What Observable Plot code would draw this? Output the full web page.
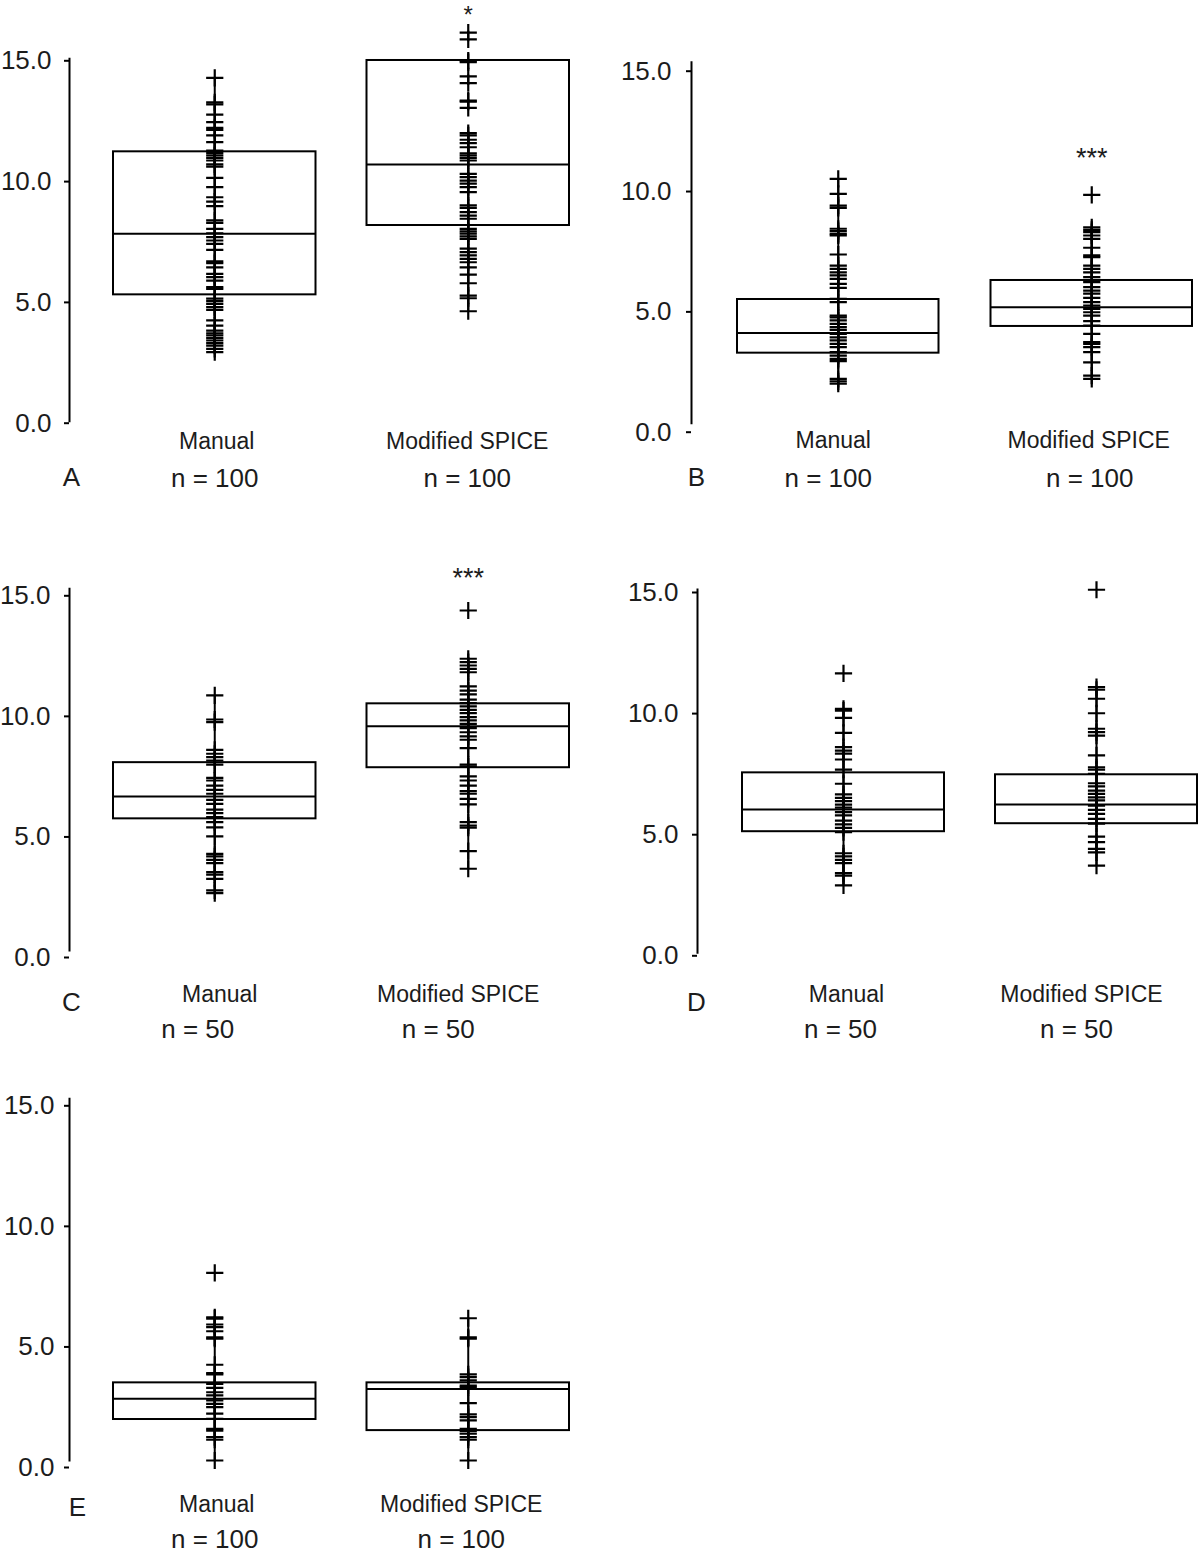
<!DOCTYPE html>
<html><head><meta charset="utf-8">
<script src="https://cdn.jsdelivr.net/npm/d3@7"></script>
<script src="https://cdn.jsdelivr.net/npm/@observablehq/plot@0.6"></script>
<style>
body{margin:0;background:#fff;}
#fig{position:relative;width:1200px;height:1553px;background:#fff;overflow:hidden;}
.panel{position:absolute;}
</style></head><body><div id="fig"></div>
<script>
// ---------- data ----------
const categories = ["Manual", "Modified SPICE"];
const letters = ["A", "B", "C", "D", "E"];
const sampleSizes = [100, 100, 50, 50, 100];
const yTicks = [0, 5, 10, 15];

const aManual = [14.21,13.20,13.11,12.69,12.38,12.14,12.06,11.83,11.55,11.20,11.11,11.00,10.90,10.79,10.63,10.54,10.07,9.69,9.27,9.09,8.90,8.31,8.21,7.96,7.78,7.62,7.48,7.34,7.09,6.62,6.54,6.37,6.10,5.96,5.82,5.55,5.48,5.07,4.97,4.86,4.72,4.61,4.17,3.96,3.75,3.64,3.55,3.44,3.34,3.23,3.13,2.99,2.86];
const aSpice = [16.08,15.80,14.93,14.86,14.27,13.99,13.27,13.23,12.97,11.92,11.83,11.65,11.51,11.34,11.09,11.00,10.90,10.79,10.24,10.10,9.96,9.83,9.69,9.48,8.93,8.83,8.65,8.51,8.38,7.96,7.86,7.76,7.65,7.55,7.14,7.00,6.86,6.72,6.58,6.37,6.07,5.71,5.20,5.09,4.55];
const bManual = [10.15,9.53,9.04,8.95,8.08,7.98,7.87,7.80,7.01,6.55,6.41,6.27,6.14,6.00,5.79,5.62,5.17,5.03,4.47,4.40,4.27,4.13,3.99,3.88,3.71,3.57,3.44,3.30,3.16,2.95,2.81,2.67,2.58,1.84,1.74,1.64];
const bSpice = [9.49,8.14,8.03,7.94,7.80,7.66,7.29,6.97,6.90,6.55,6.41,6.27,6.07,5.86,5.65,5.51,5.38,5.21,5.03,4.89,4.75,4.61,4.47,4.24,4.06,3.71,3.37,3.30,3.16,2.95,2.53,1.98,1.84];
const cManual = [10.58,9.58,9.47,8.32,8.16,8.02,7.88,7.71,7.16,7.05,6.84,6.66,6.50,6.25,6.08,5.84,5.70,5.53,5.32,5.11,4.73,4.01,3.90,3.76,3.62,3.25,3.15,2.97,2.49,2.38];
const cSpice = [14.10,12.10,11.96,11.82,11.68,11.54,10.95,10.78,10.62,10.40,10.26,10.12,9.98,9.84,9.68,9.54,9.40,9.22,9.05,8.88,8.74,8.39,7.71,7.63,7.22,7.05,6.84,6.61,6.50,6.29,6.06,5.32,5.18,5.09,4.12,3.39];
const dManual = [11.54,10.07,10.00,9.70,9.08,8.49,8.35,8.22,7.98,7.56,6.98,6.54,6.40,6.26,6.12,5.99,5.81,5.67,5.46,5.30,5.16,4.98,4.11,3.98,3.84,3.70,3.29,3.19,2.78];
const dSpice = [14.99,10.97,10.86,10.49,9.89,9.25,9.11,8.97,8.15,7.66,7.56,7.39,7.00,6.87,6.70,6.56,6.42,6.29,6.08,5.90,5.74,5.53,5.33,4.80,4.57,4.29,4.15,3.60];
const eManual = [7.78,5.94,5.88,5.64,5.53,5.36,5.11,5.05,3.97,3.62,3.57,3.18,3.01,2.83,2.70,2.49,2.35,2.21,1.94,1.73,1.31,1.24,0.97,0.86,0.00];
const eSpice = [5.90,5.11,5.05,3.57,3.46,3.32,3.11,3.04,2.38,1.91,1.80,1.66,1.31,1.22,1.11,0.97,0.86,0.00];

// box: lower quartile, median, upper quartile (panels A..E)
const q1Manual = [5.23, 2.91, 5.46, 5.00, 1.70];
const medManual = [7.76, 3.75, 6.39, 5.92, 2.56];
const q3Manual = [11.15, 5.14, 7.79, 7.43, 3.22];
const q1Spice = [8.10, 4.02, 7.58, 5.33, 1.24];
const medSpice = [10.63, 4.82, 9.30, 6.12, 2.97];
const q3Spice = [14.93, 5.93, 10.23, 7.35, 3.22];

// continuous vertical range line of each column (non-outlying values)
const lineLoManual = [2.86, 1.64, 2.38, 2.78, 0.00];
const lineHiManual = [14.21, 10.15, 10.58, 10.07, 5.94];
const lineLoSpice = [4.55, 1.84, 3.39, 3.60, 0.00];
const lineHiSpice = [11.92, 8.14, 12.10, 10.97, 5.90];

// significance marks over "Modified SPICE"
const sigLabels = ["*", "***", "***", "", ""];
const sigY = [17.1, 11.25, 15.7, null, null];

const panelData = [[aManual, aSpice], [bManual, bSpice], [cManual, cSpice], [dManual, dSpice], [eManual, eSpice]];

// ---------- layout (pixels) ----------
const layout = [
  {left: 0,   top: 0,    width: 600, height: 510, ml: 69, mt: 58.3, mb: 89.3, xr: [113, 569], bw: 202.5, tp: 13, yDy: 2, catPad: 11.5, nPad: 47, catDx: [2, -1], nDx: [0, -1], lDx: 2, lDy: 56.3, sigDy: 7.5, sigFs: 24},
  {left: 600, top: 0,    width: 600, height: 510, ml: 91, mt: 61.7, mb: 87.3, xr: [137, 592], bw: 201.5, tp: 15, yDy: 9, catPad: 8, nPad: 45, catDx: [-5, -3], nDx: [-10, -2], lDx: 5, lDy: 54.3, sigDy: 6, sigFs: 27},
  {left: 0,   top: 530,  width: 600, height: 520, ml: 69, mt: 58.3, mb: 100, xr: [113, 569], bw: 202.5, tp: 14, yDy: 7, catPad: 34.7, nPad: 68.7, catDx: [5, -10], nDx: [-17, -30], lDx: 2, lDy: 52, sigDy: 6, sigFs: 27},
  {left: 600, top: 530,  width: 600, height: 520, ml: 97, mt: 59, mb: 97.7, xr: [142, 597], bw: 202, tp: 14, yDy: 3, catPad: 32.4, nPad: 66.4, catDx: [3, -15], nDx: [-3, -20], lDx: -1, lDy: 49.7, sigDy: 6, sigFs: 27},
  {left: 0,   top: 1040, width: 600, height: 513, ml: 69, mt: 58.3, mb: 93, xr: [113, 569], bw: 202.5, tp: 10, yDy: 7, catPad: 34.7, nPad: 69, catDx: [2, -7], nDx: [0, -7], lDx: 8, lDy: 47, sigDy: 6, sigFs: 27}
];

const FONT = "'Liberation Sans', Arial, Helvetica, sans-serif";
const INK = "#000";
const TXT = "#1c1c1c";

function makePanel(i) {
  const L = layout[i];
  const [manual, spice] = panelData[i];
  const rows = [
    ...manual.map(v => ({cat: categories[0], v})),
    ...spice.map(v => ({cat: categories[1], v}))
  ];
  const boxes = [
    {cat: categories[0], q1: q1Manual[i], med: medManual[i], q3: q3Manual[i], lo: lineLoManual[i], hi: lineHiManual[i]},
    {cat: categories[1], q1: q1Spice[i], med: medSpice[i], q3: q3Spice[i], lo: lineLoSpice[i], hi: lineHiSpice[i]}
  ];
  const step = L.xr[1] - L.xr[0] - L.bw;
  const pad = 1 - L.bw / step;
  const marks = [
    Plot.frame({anchor: "left", stroke: INK, strokeWidth: 2}),
    Plot.axisY({ticks: yTicks, tickFormat: d3.format(".1f"), tickSize: 5, tickPadding: L.tp, fontSize: 26, dy: L.yDy, stroke: INK, strokeWidth: 2, fill: TXT, label: null}),
    Plot.barY(boxes, {x: "cat", y1: "q1", y2: "q3", fill: "none", stroke: INK, strokeWidth: 2}),
    Plot.tickY(boxes, {x: "cat", y: "med", stroke: INK, strokeWidth: 2}),
    Plot.ruleX(boxes, {x: "cat", y1: "lo", y2: "hi", stroke: INK, strokeWidth: 2}),
    Plot.dot(rows, {x: "cat", y: "v", symbol: "plus", r: 5.6, stroke: INK, strokeWidth: 2.2}),
    ...categories.map((c, j) => Plot.axisX({ticks: [c], tickSize: 0, tickPadding: L.catPad, fontSize: 23, dx: L.catDx[j], fill: TXT, label: null})),
    ...categories.map((c, j) => Plot.axisX({ticks: [c], tickSize: 0, tickPadding: L.nPad, fontSize: 26, dx: L.nDx[j], fill: TXT, tickFormat: () => `n = ${sampleSizes[i]}`, label: null})),
    Plot.text([letters[i]], {text: d => d, frameAnchor: "bottom-left", dx: L.lDx, dy: L.lDy, fontSize: 26, textAnchor: "middle", lineAnchor: "middle", fill: TXT})
  ];
  if (sigLabels[i]) {
    marks.push(Plot.text([{cat: categories[1], y: sigY[i], t: sigLabels[i]}], {x: "cat", y: "y", text: "t", fontSize: L.sigFs, dy: L.sigDy, fill: TXT}));
  }
  const svg = Plot.plot({
    width: L.width, height: L.height,
    marginLeft: L.ml, marginRight: 0, marginTop: L.mt, marginBottom: L.mb,
    x: {type: "band", domain: categories, range: L.xr, paddingInner: pad, paddingOuter: 0, round: false},
    y: {domain: [0, 15]},
    style: {fontFamily: FONT, background: "transparent", color: INK, overflow: "visible"},
    marks
  });
  const div = document.createElement("div");
  div.className = "panel";
  div.style.left = L.left + "px";
  div.style.top = L.top + "px";
  div.appendChild(svg);
  document.getElementById("fig").appendChild(div);
}

for (let i = 0; i < 5; i++) makePanel(i);
</script>
</body></html>
